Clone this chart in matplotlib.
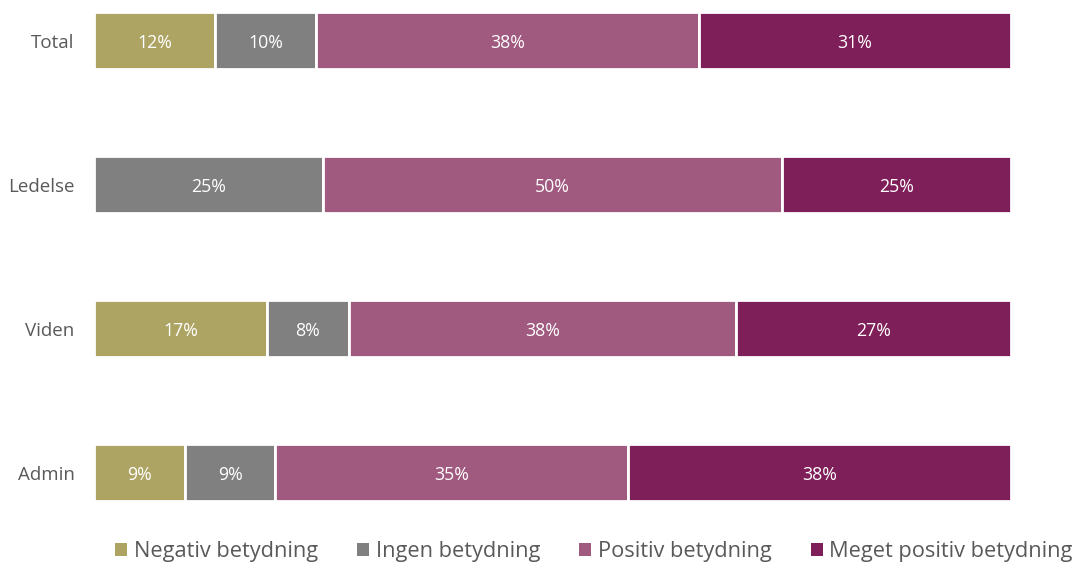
import matplotlib
matplotlib.use("Agg")
import matplotlib.pyplot as plt
from matplotlib.patches import Patch
import numpy as np

plt.rcParams['font.family'] = ['Open Sans', 'DejaVu Sans']

categories = ["Total", "Ledelse", "Viden", "Admin"]
series_names = ["Negativ betydning", "Ingen betydning", "Positiv betydning",
                "Meget positiv betydning"]
negativ = [12, 0, 17, 9]
ingen = [10, 25, 8, 9]
positiv = [38, 50, 38, 35]
meget_positiv = [31, 25, 27, 38]
colors = ["#ADA463", "#808080", "#A0597F", "#7F1F5A"]

series = [negativ, ingen, positiv, meget_positiv]
values = np.array(series, dtype=float)
totals = values.sum(axis=0)
shares = values / totals

W, H = 1076, 565
fig = plt.figure(figsize=(W / 100, H / 100), dpi=100)
y_top, y_bot = -0.25, 3.4
px_per_unit = 144
ax_top_px = 40.5 + y_top * px_per_unit
ax_h_px = (y_bot - y_top) * px_per_unit
ax = fig.add_axes([94 / W, 1 - (ax_top_px + ax_h_px) / H,
                   (1011 - 94) / W, ax_h_px / H])

y = np.arange(len(categories))
left = np.zeros(len(categories))
for vals, share, color in zip(series, shares, colors):
    ax.barh(y, share, left=left, height=0.395, color=color,
            edgecolor="white", linewidth=2)
    for yi, (v, s, l) in enumerate(zip(vals, share, left)):
        if v > 0:
            ax.text(l + s / 2, yi, f"{v}%", ha="center",
                    va="center_baseline", color="white", fontsize=12.8)
    left += share

ax.set_xlim(0, 1)
ax.set_ylim(y_bot, y_top)
ax.set_yticks(y)
ax.set_yticklabels(categories, fontsize=13.5, color="#595959")
ax.tick_params(axis="y", length=0, pad=14)
ax.set_xticks([])
for s in ax.spines.values():
    s.set_visible(False)

handles = [Patch(facecolor=c, edgecolor="none") for c in colors]
fig.legend(handles, series_names, loc="center", ncol=4,
           bbox_to_anchor=(594 / W, 1 - 552 / H), frameon=False,
           fontsize=15.7, labelcolor="#595959", handlelength=0.55,
           handleheight=0.55, handletextpad=0.3, columnspacing=1.8)

fig.savefig("out.png", dpi=100)
